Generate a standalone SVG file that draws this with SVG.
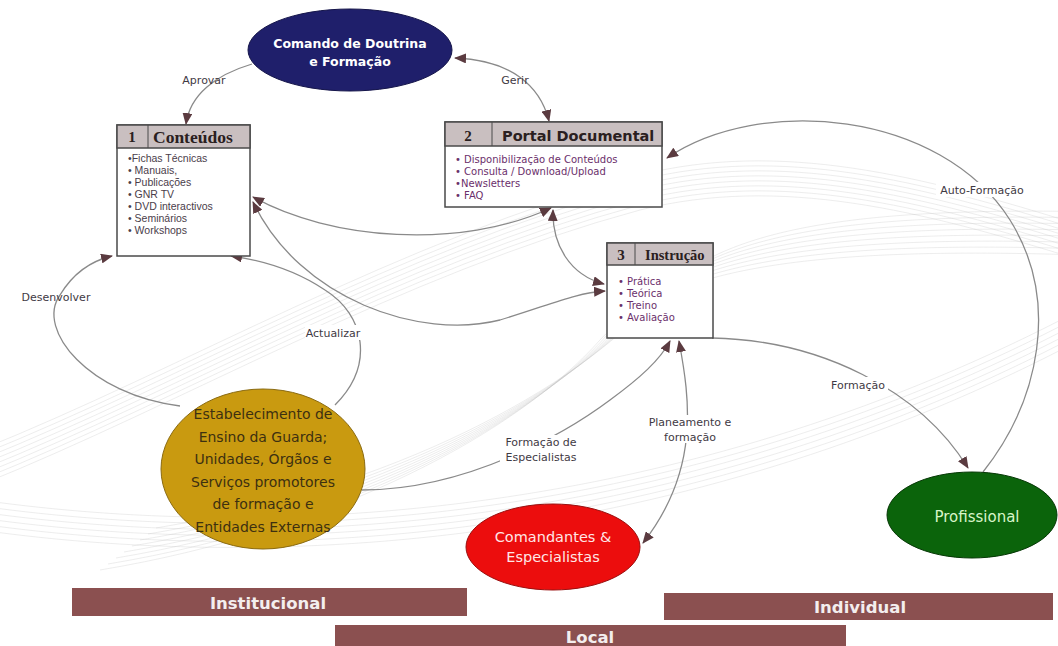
<svg xmlns="http://www.w3.org/2000/svg" width="1058" height="646" viewBox="0 0 1058 646">
  <style>
    .bg { fill: none; stroke: #c4c4c4; stroke-width: 0.6; opacity: 0.5; }
    .box { fill: #ffffff; stroke: #4a4a4a; stroke-width: 1.5; }
    .hdr { fill: #c9bfc0; stroke: #4a4a4a; stroke-width: 1.5; }
    .num { font-family: "Liberation Serif", serif; font-weight: bold; font-size: 15px; fill: #2a2020; text-anchor: middle; }
    .ttl-serif { font-family: "Liberation Serif", serif; font-weight: bold; fill: #2a2020; }
    .ttl-sans { font-family: "DejaVu Sans", sans-serif; font-weight: bold; fill: #2a2020; }
    .item { font-family: "Liberation Sans", Arial, sans-serif; font-size: 10.5px; fill: #4a3d4a; }
    .item2 { font-family: "DejaVu Sans", sans-serif; font-size: 10px; fill: #6b2f6b; }
    .conn { fill: none; stroke: #8a8a8a; stroke-width: 1.3; }
    .lbl { font-family: "DejaVu Sans", sans-serif; font-size: 11px; fill: #3f3a44; text-anchor: middle; }
    .lblbg { fill: #ffffff; }
    .bar { fill: #8b5050; }
    .bartxt { font-family: "DejaVu Sans", sans-serif; font-weight: bold; font-size: 16.5px; fill: #f3eeee; text-anchor: middle; }
  </style>
  <defs>
    <marker id="arr" viewBox="0 0 12 10" refX="11" refY="5" markerWidth="12" markerHeight="10" markerUnits="userSpaceOnUse" orient="auto-start-reverse">
      <path d="M0,0 L12,5 L0,10 z" fill="#5b3b40"/>
    </marker>
    <path id="sw1" d="M-20,450 C180,370 400,240 640,175 C780,140 920,175 1080,225"/>
    <path id="sw2" d="M100,570 C340,530 520,430 600,340 C660,275 780,245 1080,255"/>
    <path id="sw3" d="M-20,530 C300,575 700,540 1080,340"/>
  </defs>

  <!-- faint decorative line work behind the diagram -->
  <g id="background">
    <use href="#sw1" class="bg"/>
    <use href="#sw1" class="bg" transform="translate(0,5)"/>
    <use href="#sw1" class="bg" transform="translate(0,10)"/>
    <use href="#sw1" class="bg" transform="translate(0,15)"/>
    <use href="#sw1" class="bg" transform="translate(0,20)"/>
    <use href="#sw1" class="bg" transform="translate(0,25)"/>
    <use href="#sw1" class="bg" transform="translate(0,30)"/>
    <use href="#sw1" class="bg" transform="translate(0,35)"/>
    <use href="#sw2" class="bg"/>
    <use href="#sw2" class="bg" transform="translate(8,-6)"/>
    <use href="#sw2" class="bg" transform="translate(16,-12)"/>
    <use href="#sw2" class="bg" transform="translate(24,-18)"/>
    <use href="#sw2" class="bg" transform="translate(32,-24)"/>
    <use href="#sw2" class="bg" transform="translate(40,-30)"/>
    <use href="#sw2" class="bg" transform="translate(48,-36)"/>
    <use href="#sw2" class="bg" transform="translate(56,-42)"/>
    <use href="#sw3" class="bg"/>
    <use href="#sw3" class="bg" transform="translate(0,-6)"/>
    <use href="#sw3" class="bg" transform="translate(0,-12)"/>
    <use href="#sw3" class="bg" transform="translate(0,-18)"/>
    <use href="#sw3" class="bg" transform="translate(0,-24)"/>
    <use href="#sw3" class="bg" transform="translate(0,-30)"/>
  </g>

  <!-- connectors -->
  <g id="connectors">
    <path class="conn" d="M252,64 C215,75 190,95 186,124" marker-end="url(#arr)"/>
    <path class="conn" d="M455,58 C510,60 540,85 549,121" marker-start="url(#arr)" marker-end="url(#arr)"/>
    <path class="conn" d="M253,197 C330,240 460,250 551,208" marker-start="url(#arr)" marker-end="url(#arr)"/>
    <path class="conn" d="M253,202 C300,300 420,340 500,320 C550,305 575,293 605,291" marker-start="url(#arr)" marker-end="url(#arr)"/>
    <path class="conn" d="M553,210 C552,245 570,275 604,284" marker-start="url(#arr)" marker-end="url(#arr)"/>
    <path class="conn" d="M983,472 C1040,400 1060,300 1010,220 C940,110 760,95 667,158" marker-end="url(#arr)"/>
    <path class="conn" d="M712,338 C820,340 920,390 968,468" marker-end="url(#arr)"/>
    <path class="conn" d="M180,406 C90,395 35,330 60,295 C75,270 95,260 112,256" marker-end="url(#arr)"/>
    <path class="conn" d="M335,405 C375,365 365,315 325,290 C295,270 260,260 231,256" marker-end="url(#arr)"/>
    <path class="conn" d="M362,490 C470,490 570,430 610,400 C640,378 660,360 670,341" marker-end="url(#arr)"/>
    <path class="conn" d="M679,341 C690,400 700,470 643,543" marker-start="url(#arr)" marker-end="url(#arr)"/>

    <!-- connector labels -->
    <text class="lbl" x="204" y="84">Aprovar</text>
    <text class="lbl" x="515" y="84">Gerir</text>
    <rect class="lblbg" x="936" y="182" width="92" height="15"/>
    <text class="lbl" x="982" y="194">Auto-Formação</text>
    <text class="lbl" x="56" y="301">Desenvolver</text>
    <rect class="lblbg" x="305" y="325" width="56" height="15"/>
    <text class="lbl" x="333" y="337">Actualizar</text>
    <rect class="lblbg" x="828" y="377" width="60" height="15"/>
    <text class="lbl" x="858" y="389">Formação</text>
    <rect class="lblbg" x="500" y="435" width="82" height="30"/>
    <text class="lbl" x="541" y="446">Formação de</text>
    <text class="lbl" x="541" y="461">Especialistas</text>
    <rect class="lblbg" x="650" y="415" width="80" height="28"/>
    <text class="lbl" x="690" y="426">Planeamento e</text>
    <text class="lbl" x="690" y="441">formação</text>
  </g>

  <!-- Comando de Doutrina e Formação -->
  <g id="comando">
    <ellipse cx="350" cy="50" rx="102" ry="41" fill="#1f1f6b" stroke="#15154a" stroke-width="1"/>
    <text x="350" y="48" font-family="DejaVu Sans, sans-serif" font-weight="bold" font-size="12.5" fill="#ffffff" text-anchor="middle">Comando de Doutrina</text>
    <text x="350" y="66" font-family="DejaVu Sans, sans-serif" font-weight="bold" font-size="12.5" fill="#ffffff" text-anchor="middle">e Formação</text>
  </g>

  <!-- 1 Conteúdos -->
  <g id="conteudos">
    <rect class="box" x="117" y="125" width="133" height="131"/>
    <rect class="hdr" x="117" y="125" width="133" height="23"/>
    <line x1="148" y1="125" x2="148" y2="148" stroke="#4a4a4a" stroke-width="1"/>
    <text class="num" x="132" y="142" font-size="14">1</text>
    <text class="ttl-serif" x="153" y="143" font-size="17.5">Conteúdos</text>
    <text class="item" x="128" y="162">•Fichas Técnicas</text>
    <text class="item" x="128" y="174">• Manuais,</text>
    <text class="item" x="128" y="186">• Publicações</text>
    <text class="item" x="128" y="198">• GNR TV</text>
    <text class="item" x="128" y="210">• DVD interactivos</text>
    <text class="item" x="128" y="222">• Seminários</text>
    <text class="item" x="128" y="234">• Workshops</text>
  </g>

  <!-- 2 Portal Documental -->
  <g id="portal">
    <rect class="box" x="445" y="122" width="217" height="85"/>
    <rect class="hdr" x="445" y="122" width="217" height="24"/>
    <line x1="492" y1="122" x2="492" y2="146" stroke="#4a4a4a" stroke-width="1"/>
    <text class="num" x="468" y="141" font-family="DejaVu Sans, sans-serif">2</text>
    <text class="ttl-sans" x="502" y="141" font-size="14.5">Portal Documental</text>
    <text class="item2" x="455" y="163">• Disponibilização de Conteúdos</text>
    <text class="item2" x="455" y="175">• Consulta / Download/Upload</text>
    <text class="item2" x="455" y="187">•Newsletters</text>
    <text class="item2" x="455" y="199">• FAQ</text>
  </g>

  <!-- 3 Instrução -->
  <g id="instrucao">
    <rect class="box" x="607" y="243" width="106" height="95"/>
    <rect class="hdr" x="607" y="243" width="106" height="22"/>
    <line x1="635" y1="243" x2="635" y2="265" stroke="#4a4a4a" stroke-width="1"/>
    <text class="num" x="621" y="260" font-family="DejaVu Sans, sans-serif">3</text>
    <text class="ttl-serif" x="645" y="260" font-size="14.5">Instrução</text>
    <text class="item2" x="618" y="285">• Prática</text>
    <text class="item2" x="618" y="297">• Teórica</text>
    <text class="item2" x="618" y="309">• Treino</text>
    <text class="item2" x="618" y="321">• Avaliação</text>
  </g>

  <!-- Estabelecimento de Ensino da Guarda -->
  <g id="estabelecimento">
    <ellipse cx="263" cy="469" rx="102" ry="80" fill="#c99a10" stroke="#8a6a10" stroke-width="1"/>
    <g font-family="DejaVu Sans, sans-serif" font-size="14" fill="#3d3010" text-anchor="middle">
      <text x="263" y="419">Estabelecimento de</text>
      <text x="263" y="442">Ensino da Guarda;</text>
      <text x="263" y="464">Unidades, Órgãos e</text>
      <text x="263" y="487">Serviços promotores</text>
      <text x="263" y="509">de formação e</text>
      <text x="263" y="532">Entidades Externas</text>
    </g>
  </g>

  <!-- Comandantes & Especialistas -->
  <g id="comandantes">
    <ellipse cx="553" cy="547" rx="87" ry="43" fill="#ec0d0d" stroke="#9a1010" stroke-width="1"/>
    <text x="553" y="542" font-family="DejaVu Sans, sans-serif" font-size="14.5" fill="#ffe6e6" text-anchor="middle">Comandantes &amp;</text>
    <text x="553" y="562" font-family="DejaVu Sans, sans-serif" font-size="14.5" fill="#ffe6e6" text-anchor="middle">Especialistas</text>
  </g>

  <!-- Profissional -->
  <g id="profissional">
    <ellipse cx="972" cy="515" rx="85" ry="43" fill="#0b640b" stroke="#063806" stroke-width="1"/>
    <text x="977" y="522" font-family="DejaVu Sans, sans-serif" font-size="15" fill="#d8f5c8" text-anchor="middle">Profissional</text>
  </g>

  <!-- scope bars -->
  <g id="institucional">
    <rect class="bar" x="72" y="588" width="395" height="28"/>
    <text class="bartxt" x="268" y="609">Institucional</text>
  </g>
  <g id="individual">
    <rect class="bar" x="664" y="593" width="389" height="27"/>
    <text class="bartxt" x="860" y="613">Individual</text>
  </g>
  <g id="local">
    <rect class="bar" x="335" y="625" width="511" height="21"/>
    <text class="bartxt" x="590" y="643">Local</text>
  </g>
</svg>
